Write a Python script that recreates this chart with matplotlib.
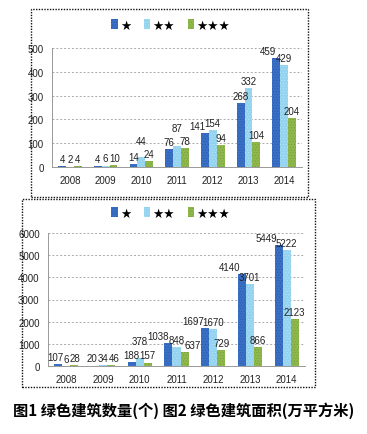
import matplotlib
matplotlib.use('agg')
import numpy as np
import matplotlib.pyplot as plt
from matplotlib.patches import Rectangle
from matplotlib import font_manager

names = {f.name for f in font_manager.fontManager.ttflist}
narrow = 'Liberation Sans Narrow' if 'Liberation Sans Narrow' in names else 'Liberation Sans'
plt.rcParams['font.family'] = [narrow, 'DejaVu Sans', 'Noto Sans CJK SC']
plt.rcParams['hatch.linewidth'] = 0.4

years = ['2008', '2009', '2010', '2011', '2012', '2013', '2014']
series_names = ['★', '★★', '★★★']

# fig 1: number of green buildings
count_1star = [4, 4, 14, 76, 141, 268, 459]
count_2star = [2, 6, 44, 87, 154, 332, 429]
count_3star = [4, 10, 24, 78, 94, 104, 204]

# fig 2: green building area (10k m2)
area_1star = [107, 20, 188, 1038, 1697, 4140, 5449]
area_2star = [6, 34, 378, 848, 1670, 3701, 5222]
area_3star = [28, 46, 157, 637, 729, 866, 2123]

colors = ['#3a6fc6', '#93d3ef', '#8fb84c']
hatch_colors = ['#2a5aa8', '#b8e4f7', '#769e36']

fig = plt.figure(figsize=(3.67, 4.35), dpi=100)
H = 435.0
W = 367.0
LABEL_FS = 7
PX = 100 / 72.0   # px per pt


def label_offsets(vals, px_per_unit, bar_px):
    # sideways / upward nudges (px) so value labels don't collide
    widths = [len(str(v)) * LABEL_FS * 0.47 * PX + 2 for v in vals]
    tops = [v * px_per_unit for v in vals]
    text_h = LABEL_FS * 1.3 * PX
    xs = [-bar_px, 0.0, bar_px]
    dx = [0.0, 0.0, 0.0]
    dy = [0.0, 0.0, 0.0]

    def clash(a, b):
        if abs(tops[a] + dy[a] - tops[b] - dy[b]) > text_h:
            return 0.0
        need = (widths[a] + widths[b]) / 2
        gap = (xs[b] + dx[b]) - (xs[a] + dx[a])
        return max(0.0, need - gap)

    if clash(0, 1) > 0 and clash(1, 2) > 0 and tops[1] > max(tops[0], tops[2]):
        # middle bar is the peak: lift its label above the neighbours
        dy[1] = max(tops[0], tops[2]) + text_h + 1 - tops[1]
    dx[0] -= clash(0, 1)
    dx[2] += clash(1, 2)
    d = clash(0, 2)
    dx[0] -= d / 2
    dx[2] += d / 2
    return dx, dy


def draw_panel(rect, values, ymax, ystep, box, legend_y):
    ax = fig.add_axes(rect)
    x = np.arange(len(years))
    w = 0.22
    px_per_unit = rect[3] * H / ymax
    bar_px = rect[2] * W / len(years) * w
    for i, vals in enumerate(values):
        pos = x + (i - 1) * w
        ax.bar(pos, vals, width=w, color=colors[i], edgecolor=hatch_colors[i],
               linewidth=0, hatch='......', label=series_names[i], zorder=3)
    for g in range(len(years)):
        vals = [values[i][g] for i in range(3)]
        dx, dy = label_offsets(vals, px_per_unit, bar_px)
        for i in range(3):
            ax.annotate(str(vals[i]), (x[g] + (i - 1) * w, vals[i]),
                        xytext=(dx[i] / PX, 1.5 + dy[i] / PX), textcoords='offset points',
                        ha='center', va='bottom', fontsize=LABEL_FS,
                        color='#222222', zorder=4)
    ax.set_xlim(-0.5, len(years) - 0.5)
    ax.set_ylim(0, ymax)
    ax.set_yticks(np.arange(0, ymax + 1, ystep))
    ax.set_xticks(x)
    ax.set_xticklabels(years)
    ax.tick_params(axis='both', labelsize=7, length=0, pad=6, colors='#222222')
    ax.yaxis.grid(True, linestyle=(0, (2, 2)), color='#aaaaaa', linewidth=0.7, zorder=0)
    for s in ['top', 'right']:
        ax.spines[s].set_visible(False)
    ax.spines['left'].set_color('#999999')
    ax.spines['bottom'].set_color('#999999')
    ax.spines['left'].set_linewidth(0.7)
    ax.spines['bottom'].set_linewidth(0.7)
    ax.legend(loc='center', bbox_to_anchor=(0.465, legend_y),
              bbox_transform=fig.transFigure, ncol=3,
              frameon=False, handlelength=0.5, handleheight=0.8,
              handletextpad=0.2, columnspacing=1.0,
              prop={'family': ['DejaVu Sans'], 'size': 9})
    # dotted frame around the panel
    fig.patches.append(Rectangle((box[0], box[1]), box[2], box[3],
                                 transform=fig.transFigure, fill=False,
                                 linestyle=(0, (1, 1)), linewidth=1.0,
                                 edgecolor='#111111'))
    return ax


draw_panel([52 / W, 1 - 168 / H, 250 / W, 119 / H],
           [count_1star, count_2star, count_3star], 500, 100,
           (31 / W, 1 - 198 / H, 277 / W, 188 / H), 1 - 26 / H)
draw_panel([48 / W, 1 - 367 / H, 257 / W, 133 / H],
           [area_1star, area_2star, area_3star], 6000, 1000,
           (22 / W, 1 - 388 / H, 293 / W, 188 / H), 1 - 214 / H)

fig.text(0.5, 1 - 411 / H, '图1 绿色建筑数量(个) 图2 绿色建筑面积(万平方米)',
         ha='center', va='center', fontsize=11, fontweight='bold',
         family=['Noto Sans CJK SC', 'DejaVu Sans'])

plt.savefig('out.png', dpi=100)
plt.close(fig)
